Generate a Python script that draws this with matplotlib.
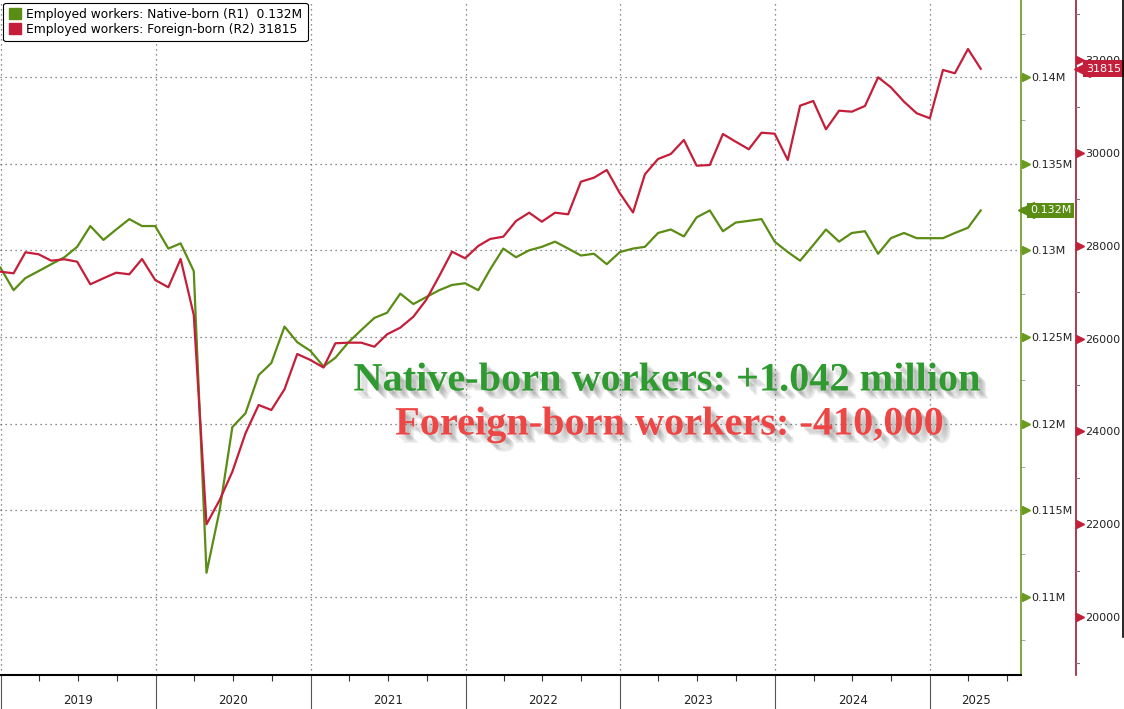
import matplotlib
matplotlib.use("Agg")
import matplotlib.pyplot as plt
import matplotlib.dates as mdates
import matplotlib.patheffects as pe
from matplotlib.patches import Patch
from matplotlib.lines import Line2D
import matplotlib.transforms as mtrans
import pandas as pd

# monthly data, Dec 2018 .. Apr 2025 (plotted at month end)
dates = pd.date_range("2018-12-31", periods=77, freq="ME")

native = [0.1290, 0.1277, 0.1284, 0.1288, 0.1292, 0.1296, 0.1302, 0.1314, 0.1306, 0.1312,
          0.1318, 0.1314, 0.1314, 0.1301, 0.1304, 0.1288, 0.1114, 0.1150, 0.1198, 0.1206,
          0.1228, 0.1235, 0.1256, 0.1247, 0.1242, 0.1233, 0.1238, 0.1247, 0.1254, 0.1261,
          0.1264, 0.1275, 0.1269, 0.1273, 0.1277, 0.1280, 0.1281, 0.1277, 0.1289, 0.1301,
          0.1296, 0.1300, 0.1302, 0.1305, 0.1301, 0.1297, 0.1298, 0.1292, 0.1299, 0.1301,
          0.1302, 0.1310, 0.1312, 0.1308, 0.1319, 0.1323, 0.1311, 0.1316, 0.1317, 0.1318,
          0.1305, 0.1299, 0.1294, 0.1303, 0.1312, 0.1305, 0.1310, 0.1311, 0.1298, 0.1307,
          0.1310, 0.1307, 0.1307, 0.1307, 0.1310, 0.1313, 0.1323]

foreign = [27442, 27407, 27860, 27817, 27679, 27709, 27657, 27170, 27300, 27420,
           27386, 27715, 27263, 27106, 27715, 26509, 21998, 22521, 23131, 23959,
           24569, 24461, 24907, 25668, 25539, 25377, 25899, 25912, 25912, 25825,
           26093, 26235, 26472, 26832, 27349, 27873, 27731, 27996, 28147, 28196,
           28534, 28713, 28519, 28713, 28679, 29381, 29468, 29634, 29131, 28718,
           29541, 29871, 29978, 30280, 29726, 29741, 30409, 30244, 30080, 30437,
           30416, 29849, 31019, 31121, 30511, 30912, 30890, 31013, 31631, 31416,
           31106, 30856, 30748, 31789, 31718, 32241, 31815]

years = [2019, 2020, 2021, 2022, 2023, 2024, 2025]
green_ticks = [0.11, 0.115, 0.12, 0.125, 0.13, 0.135, 0.14]
green_labels = ["0.11M", "0.115M", "0.12M", "0.125M", "0.13M", "0.135M", "0.14M"]
red_ticks = [20000, 22000, 24000, 26000, 28000, 30000, 32000]
red_minor = [19000, 21000, 23000, 25000, 27000, 29000, 31000, 33000]

label_native = "Employed workers: Native-born (R1)  0.132M"
label_foreign = "Employed workers: Foreign-born (R2) 31815"

GREEN = "#5b8c14"
GREEN_AX = "#6a9a1e"
RED = "#c41e3a"
RED_AX = "#9e1c34"

fig = plt.figure(figsize=(11.24, 7.09), dpi=100)
W, H = 1124, 709
ax = fig.add_axes([0, (H - 675) / H, 1021 / W, 675 / H])
ax2 = ax.twinx()

ax.plot(dates, native, color=GREEN, lw=1.6, zorder=3)
ax2.plot(dates, foreign, color=RED, lw=1.6, zorder=3)

xmin = pd.Timestamp("2018-12-30")
xmax = pd.Timestamp("2025-08-03")
ax.set_xlim(xmin, xmax)
ax.set_ylim(0.1055, 0.14444)
ax2.set_ylim(18750, 33297)

# spines
for s in ["left", "top", "right"]:
    ax.spines[s].set_visible(False)
    ax2.spines[s].set_visible(False)
ax2.spines["bottom"].set_visible(False)
ax.spines["bottom"].set_color("black")
ax.spines["bottom"].set_linewidth(1.5)

# green axis drawn on ax (right side)
ax.yaxis.tick_right()
ax.set_yticks(green_ticks)
ax.set_yticklabels(green_labels)
ax.yaxis.set_minor_locator(matplotlib.ticker.MultipleLocator(0.0025))
ax.tick_params(axis="y", which="major", length=0, pad=7.5, labelsize=8, labelcolor="#222")
ax.tick_params(axis="y", which="minor", length=3, color="#999", direction="out")
ax.add_line(Line2D([1, 1], [0, 1], transform=ax.transAxes, color=GREEN_AX, lw=1.2, clip_on=False))
tr = mtrans.blended_transform_factory(ax.transAxes, ax.transData)
ax.plot([1.0045] * len(green_ticks), green_ticks, ls="none", marker=">", ms=6,
        color=GREEN_AX, transform=tr, clip_on=False)

# red axis, offset to the right
rx = 1076 / 1021
ax2.add_line(Line2D([rx, rx], [0, 1], transform=ax2.transAxes, color=RED_AX, lw=1.2, clip_on=False))
ax2.set_yticks(red_ticks)
ax2.set_yticklabels([str(v) for v in red_ticks])
ax2.tick_params(axis="y", which="major", length=0, pad=46, labelsize=8, labelcolor="#222")
tr2 = mtrans.blended_transform_factory(ax2.transAxes, ax2.transData)
ax2.plot([rx + 0.0042] * len(red_ticks), red_ticks, ls="none", marker=">", ms=6,
         color=RED, transform=tr2, clip_on=False)
for v in red_minor:
    ax2.add_line(Line2D([rx, rx + 3 / 1021], [v, v], transform=tr2, color="#777", lw=0.8, clip_on=False))

# grid
ax.grid(which="major", axis="both", color="#666", ls=(0, (1, 3)), lw=0.9)

# x axis: year separators and quarter ticks
ax.xaxis.set_major_locator(mdates.YearLocator())
ax.xaxis.set_minor_locator(mdates.MonthLocator(bymonth=[4, 7, 10]))
ax.xaxis.set_major_formatter(matplotlib.ticker.NullFormatter())
ax.tick_params(axis="x", which="major", length=25, width=0.8, color="#555")
ax.tick_params(axis="x", which="minor", length=4, width=0.8, color="#333")
trx = mtrans.blended_transform_factory(ax.transData, ax.transAxes)
for y in years:
    a = max(pd.Timestamp(f"{y}-01-01"), xmin)
    b = min(pd.Timestamp(f"{y + 1}-01-01"), xmax)
    mid = a + (b - a) / 2
    ax.text(mid, -0.0385, str(y), transform=trx, ha="center", va="center",
            fontsize=8.5, color="#222", clip_on=False)

# value flags on the right
ax2.plot([1082 / 1021], [31815], marker="<", ms=11, color=RED, transform=tr2, clip_on=False,
         zorder=6)
ax2.text(1086 / 1021, 31815, "31815", transform=tr2, ha="left", va="center", fontsize=8,
         color="white", bbox=dict(boxstyle="square,pad=0.3", fc=RED, ec="none"), zorder=6)
ax.plot([1026 / 1021], [native[-1]], marker="<", ms=11, color=GREEN, transform=tr, clip_on=False,
        zorder=5)
ax.text(1030 / 1021, native[-1], "0.132M", transform=tr, ha="left", va="center", fontsize=8,
        color="white", bbox=dict(boxstyle="square,pad=0.25", fc=GREEN, ec="none"), zorder=5)

# legend
handles = [Patch(color=GREEN), Patch(color=RED)]
leg = fig.legend(handles, [label_native, label_foreign], loc="upper left",
                 bbox_to_anchor=(0.002, 0.998), borderaxespad=0.1, fontsize=8.8,
                 handlelength=1.0, handleheight=1.0, handletextpad=0.4, labelspacing=0.15,
                 borderpad=0.45, framealpha=1, edgecolor="black", fancybox=True)
leg.get_frame().set_linewidth(0.8)

# annotation text with soft shadow
shadow = [pe.SimplePatchShadow(offset=(d, -d), shadow_rgbFace="#555", alpha=0.1) for d in (2, 3, 4, 5, 6)]
fig.text(667 / W, 1 - 381 / H, "Native-born workers: +1.042 million", ha="center", va="center",
         fontsize=29, fontweight="bold", family="Liberation Serif", color="#2f9a2f",
         path_effects=shadow + [pe.Normal()])
fig.text(669 / W, 1 - 425 / H, "Foreign-born workers: -410,000", ha="center", va="center",
         fontsize=29, fontweight="bold", family="Liberation Serif", color="#ee4545",
         path_effects=shadow + [pe.Normal()])

# right frame edge
fig.add_artist(Line2D([1122.5 / W, 1122.5 / W], [1, 1 - 637 / H], transform=fig.transFigure,
                      color="black", lw=1.2))

fig.savefig("out.png", dpi=100)
